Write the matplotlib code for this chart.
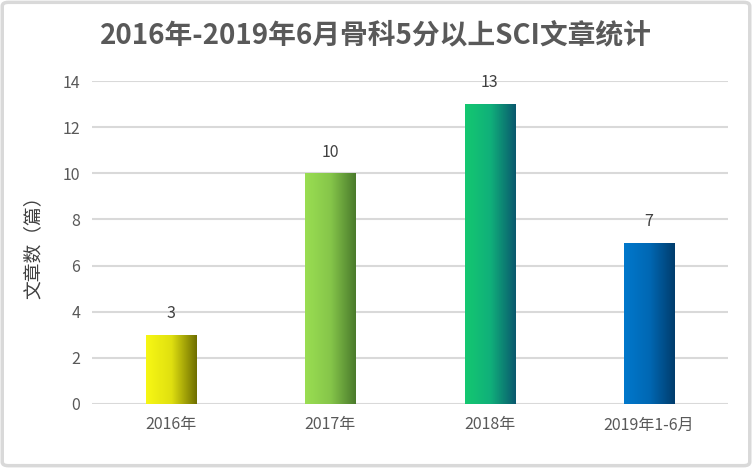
import numpy as np
import matplotlib
matplotlib.use('Agg')
from matplotlib import pyplot as plt
from matplotlib.colors import LinearSegmentedColormap
from matplotlib.patches import FancyBboxPatch

plt.rcParams['font.family'] = ['Noto Sans CJK SC', 'DejaVu Sans']

# data
categories = ['2016年', '2017年', '2018年', '2019年1-6月']
counts = [3, 10, 13, 7]
# gradient colours (left -> right) for each bar
bar_colors = [
    ['#f7f714', '#e0e010', '#6e6e00'],
    ['#9ade52', '#86c64a', '#4a7a2c'],
    ['#14c870', '#10b07a', '#0a586e'],
    ['#0078cc', '#0068b4', '#003c6c'],
]

fig = plt.figure(figsize=(7.52, 4.68), dpi=100)
ax = fig.add_axes([0.1217, 0.1368, 0.847, 0.690])

bar_w = 0.315
x = np.arange(len(categories))
grad = np.linspace(0, 1, 256).reshape(1, -1)
for i, v in enumerate(counts):
    # invisible bar as clip path, gradient image drawn inside it
    bar = ax.bar(x[i], v, width=bar_w, color='none', edgecolor='none', zorder=3)[0]
    cmap = LinearSegmentedColormap.from_list('g%d' % i, bar_colors[i])
    im = ax.imshow(grad, cmap=cmap, aspect='auto', zorder=3,
                   extent=[x[i] - bar_w / 2, x[i] + bar_w / 2, 0, v])
    im.set_clip_path(bar)
    ax.text(x[i], v + 0.55, str(v), ha='center', va='bottom',
            fontsize=11.5, color='#404040')

ax.set_xlim(-0.5, len(categories) - 0.5)
ax.set_ylim(0, 14)
ax.set_yticks(range(0, 15, 2))
ax.set_xticks(x)
ax.set_xticklabels(categories)
ax.tick_params(axis='both', length=0, labelsize=11.5, colors='#595959', pad=8)
ax.tick_params(axis='x', pad=9)
ax.grid(axis='y', color='#d9d9d9', linewidth=1.5, zorder=0)
ax.set_axisbelow(True)
for s in ax.spines.values():
    s.set_visible(False)

ax.set_ylabel('文章数（篇）', fontsize=13.5, color='#404040', labelpad=14)

fig.text(0.5, 0.925, '2016年-2019年6月骨科5分以上SCI文章统计', ha='center', va='center',
         fontsize=20, fontweight='bold', color='#595959')

# figure border
border = FancyBboxPatch((0.003, 0.005), 0.994, 0.99, boxstyle='round,pad=0,rounding_size=0.008',
                        transform=fig.transFigure, facecolor='none',
                        edgecolor='#d9d9d9', linewidth=2.5)
fig.patches.append(border)

fig.savefig('out.png', dpi=100)
